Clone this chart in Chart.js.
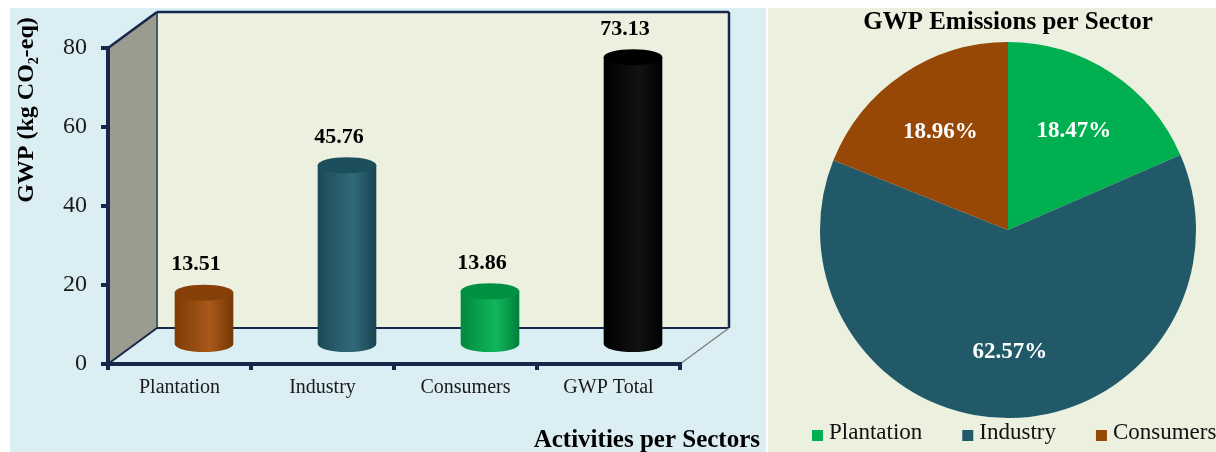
<!DOCTYPE html>
<html>
<head>
<meta charset="utf-8">
<script src="https://cdn.jsdelivr.net/npm/chart.js@4.4.0/dist/chart.umd.min.js"></script>
<style>
  html, body { margin: 0; padding: 0; background: #fff; }
  body { width: 1216px; height: 452px; position: relative; overflow: hidden; }
  .panel { position: absolute; top: 8px; height: 444px; }
  .panel canvas { display: block; }
  #barPanel { left: 10px; width: 756px; background: #dbeef4; }
  #piePanel { left: 768px; width: 448px; background: #ebf1de; }
</style>
</head>
<body>
<div class="panel" id="barPanel"><canvas id="barChart" width="756" height="444"></canvas></div>
<div class="panel" id="piePanel"><canvas id="pieChart" width="448" height="444"></canvas></div>
<script>
// bar chart data
const categories = ["Plantation", "Industry", "Consumers", "GWP Total"];
const gwpValues = [13.51, 45.76, 13.86, 73.13];
const barColors = ["#a24d08", "#225f70", "#00b050", "#000000"];
const yTicks = [0, 20, 40, 60, 80];

// pie chart data
const pieLabels = ["Plantation", "Industry", "Consumers"];
const pieShares = [18.47, 62.57, 18.96];
const pieColors = ["#00b050", "#215968", "#974706"];

const SERIF = "'Liberation Serif', 'Times New Roman', serif";
const NAVY = "#16284a";
const depthX = 49, depthY = -36; // 3d box depth

function shade(hex, f) {
  const n = parseInt(hex.slice(1), 16);
  const ch = [n >> 16, (n >> 8) & 255, n & 255].map(c =>
    Math.max(0, Math.min(255, Math.round(f >= 0 ? c + (255 - c) * f : c * (1 + f)))));
  return "rgb(" + ch.join(",") + ")";
}

function drawCylinder(ctx, cx, top, bottom, w, color) {
  const rx = w / 2, ry = 8;
  const g = ctx.createLinearGradient(cx - rx, 0, cx + rx, 0);
  g.addColorStop(0, shade(color, -0.22));
  g.addColorStop(0.6, shade(color, 0.07));
  g.addColorStop(1, shade(color, -0.28));
  ctx.fillStyle = g;
  ctx.beginPath();
  ctx.moveTo(cx - rx, top);
  ctx.lineTo(cx - rx, bottom);
  ctx.ellipse(cx, bottom, rx, ry, 0, Math.PI, 0, true);
  ctx.lineTo(cx + rx, top);
  ctx.closePath();
  ctx.fill();
  // top cap
  ctx.fillStyle = shade(color, -0.18);
  ctx.beginPath();
  ctx.ellipse(cx, top, rx, ry, 0, 0, Math.PI * 2);
  ctx.fill();
}

function line(ctx, x1, y1, x2, y2, color, w) {
  ctx.strokeStyle = color;
  ctx.lineWidth = w;
  ctx.beginPath();
  ctx.moveTo(x1, y1);
  ctx.lineTo(x2, y2);
  ctx.stroke();
}

// walls, cylinders and titles for the left chart
const box3d = {
  id: "box3d",
  beforeDraw(chart) {
    const { ctx, chartArea: a } = chart;
    ctx.save();
    // side wall
    ctx.fillStyle = "#9a9c8f";
    ctx.beginPath();
    ctx.moveTo(a.left, a.top);
    ctx.lineTo(a.left + depthX, a.top + depthY);
    ctx.lineTo(a.left + depthX, a.bottom + depthY);
    ctx.lineTo(a.left, a.bottom);
    ctx.closePath();
    ctx.fill();
    // back wall
    ctx.fillStyle = "#ebf1de";
    ctx.fillRect(a.left + depthX, a.top + depthY, a.right - a.left, a.bottom - a.top);

    line(ctx, a.left + depthX, a.top + depthY, a.left + depthX, a.bottom + depthY, "#4b5868", 2);
    line(ctx, a.left, a.top, a.left + depthX, a.top + depthY, NAVY, 2.5);
    line(ctx, a.left + depthX, a.top + depthY, a.right + depthX, a.top + depthY, NAVY, 2.5);
    line(ctx, a.right + depthX, a.top + depthY, a.right + depthX, a.bottom + depthY, NAVY, 2.5);
    line(ctx, a.left + depthX, a.bottom + depthY, a.right + depthX, a.bottom + depthY, NAVY, 2);
    line(ctx, a.left, a.bottom, a.left + depthX, a.bottom + depthY, NAVY, 2);
    line(ctx, a.right, a.bottom, a.right + depthX, a.bottom + depthY, "#808080", 1.5);
    ctx.restore();
  },
  afterDatasetsDraw(chart) {
    const { ctx } = chart;
    const meta = chart.getDatasetMeta(0);
    const values = chart.data.datasets[0].data;
    ctx.save();
    meta.data.forEach((bar, i) => {
      const cx = bar.x + depthX / 2;
      const top = bar.y + depthY / 2;
      const bottom = bar.base + depthY / 2;
      drawCylinder(ctx, cx, top, bottom, bar.width, barColors[i]);
      ctx.fillStyle = "#000";
      ctx.font = "bold 22px " + SERIF;
      ctx.textAlign = "center";
      ctx.textBaseline = "middle";
      ctx.fillText(values[i].toFixed(2), cx - 8, top - 28);
    });
    ctx.restore();
  },
  afterDraw(chart) {
    const { ctx } = chart;
    ctx.save();
    // y axis title with subscript
    const big = "bold 24px " + SERIF, small = "bold 14px " + SERIF;
    const parts = [["GWP (kg CO", big, 0], ["2", small, 5], ["-eq)", big, 0]];
    ctx.translate(14, 102);
    ctx.rotate(-Math.PI / 2);
    ctx.fillStyle = "#000";
    ctx.textBaseline = "alphabetic";
    ctx.textAlign = "left";
    let total = 0;
    parts.forEach(p => { ctx.font = p[1]; total += ctx.measureText(p[0]).width; });
    let x = -total / 2;
    parts.forEach(p => {
      ctx.font = p[1];
      ctx.fillText(p[0], x, 9 + p[2]);
      x += ctx.measureText(p[0]).width;
    });
    ctx.restore();

    ctx.save();
    ctx.fillStyle = "#000";
    ctx.font = "bold 25px " + SERIF;
    ctx.textAlign = "right";
    ctx.textBaseline = "middle";
    ctx.fillText("Activities per Sectors", 750, 433);
    ctx.restore();
  }
};

new Chart(document.getElementById("barChart"), {
  type: "bar",
  data: {
    labels: categories,
    datasets: [{
      data: gwpValues,
      backgroundColor: "rgba(0,0,0,0)",
      borderWidth: 0,
      categoryPercentage: 1,
      barPercentage: 0.41,
    }],
  },
  options: {
    responsive: false,
    animation: false,
    layout: { padding: { left: 0, top: 40, right: 86, bottom: 0 } },
    plugins: { legend: { display: false }, tooltip: { enabled: false } },
    scales: {
      y: {
        min: 0,
        max: 80,
        afterBuildTicks: (s) => { s.ticks = yTicks.map(v => ({ value: v })); },
        afterFit: (s) => { s.width = 98; },
        border: { display: true, color: NAVY, width: 4 },
        grid: { drawOnChartArea: false, drawTicks: true, tickLength: 7, color: NAVY, lineWidth: 4 },
        ticks: { font: { family: SERIF, size: 24 }, color: "#1a1a1a", padding: 14 },
      },
      x: {
        afterFit: (s) => { s.height = 88; },
        border: { display: true, color: NAVY, width: 4 },
        grid: { drawOnChartArea: false, drawTicks: true, tickLength: 6, color: NAVY, lineWidth: 4 },
        ticks: { font: { family: SERIF, size: 20 }, color: "#1a1a1a", padding: 6 },
      },
    },
  },
  plugins: [box3d],
});

// percentage labels and legend for the pie
const pieExtras = {
  id: "pieExtras",
  afterDatasetsDraw(chart) {
    const { ctx } = chart;
    const values = chart.data.datasets[0].data;
    ctx.save();
    ctx.fillStyle = "#fff";
    ctx.font = "bold 23px " + SERIF;
    ctx.textAlign = "center";
    ctx.textBaseline = "middle";
    chart.getDatasetMeta(0).data.forEach((arc, i) => {
      const mid = (arc.startAngle + arc.endAngle) / 2;
      const r = arc.outerRadius * 0.64;
      ctx.fillText(values[i].toFixed(2) + "%", arc.x + Math.cos(mid) * r, arc.y + Math.sin(mid) * r + 2);
    });
    ctx.restore();
  },
  afterDraw(chart) {
    const { ctx } = chart;
    const colors = chart.data.datasets[0].backgroundColor;
    ctx.save();
    ctx.font = "23px " + SERIF;
    ctx.textAlign = "left";
    ctx.textBaseline = "alphabetic";
    let x = 44;
    chart.data.labels.forEach((lab, i) => {
      ctx.fillStyle = colors[i];
      ctx.fillRect(x, 422, 11, 11);
      ctx.fillStyle = "#111";
      ctx.fillText(lab, x + 17, 431);
      x += 17 + ctx.measureText(lab).width + 40;
    });
    ctx.restore();
  }
};

new Chart(document.getElementById("pieChart"), {
  type: "pie",
  data: {
    labels: pieLabels,
    datasets: [{ data: pieShares, backgroundColor: pieColors, borderWidth: 0 }],
  },
  options: {
    responsive: false,
    animation: false,
    layout: { padding: { left: 32, right: 0, top: 0, bottom: 34 } },
    plugins: {
      legend: { display: false },
      tooltip: { enabled: false },
      title: {
        display: true,
        text: "GWP Emissions per Sector",
        color: "#000",
        font: { family: SERIF, size: 25, weight: "bold" },
        padding: { top: 0, bottom: 4 },
      },
    },
  },
  plugins: [pieExtras],
});
</script>
</body>
</html>
